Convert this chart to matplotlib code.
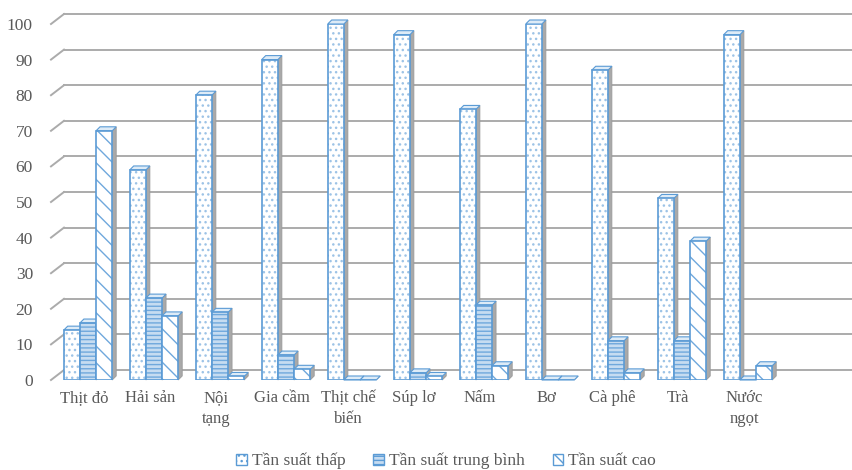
import matplotlib
matplotlib.use('Agg')
import matplotlib.pyplot as plt
import numpy as np
from matplotlib.patches import Patch

plt.rcParams['font.family'] = ['Liberation Serif', 'DejaVu Serif']
plt.rcParams['hatch.linewidth'] = 1.0

# data
categories = ['Thịt đỏ', 'Hải sản', 'Nội\ntạng', 'Gia cầm', 'Thịt chế\nbiến', 'Súp lơ',
              'Nấm', 'Bơ', 'Cà phê', 'Trà', 'Nước\nngọt', '']
low = [14, 59, 80, 90, 100, 97, 76, 100, 87, 51, 97]
medium = [16, 23, 19, 7, 0, 2, 21, 0, 11, 11, 0]
high = [70, 18, 1, 3, 0, 1, 4, 0, 2, 39, 4]
series_names = ['Tần suất thấp', 'Tần suất trung bình', 'Tần suất cao']
yticks = [0, 10, 20, 30, 40, 50, 60, 70, 80, 90, 100]

BLUE = '#5B9BD5'
TXT = '#595959'

fig = plt.figure(figsize=(8.53, 4.70), dpi=100)
ax = fig.add_axes([51 / 853, 90 / 470, 792 / 853, 356 / 470])
ax.set_xlim(-0.5, 11.5)
ax.set_ylim(0, 100)

# pixel -> data helpers (3D look)
px_x = 1 / 66.0
px_y = 100 / 356.0
wall_dx, wall_dy = 13 * px_x, 10 * px_y
bar_dx, bar_dy = 4 * px_x, 4 * px_y

# back wall grid lines with slanted front ends
for v in yticks:
    ax.plot([-0.5, -0.5 + wall_dx], [v, v + wall_dy], color='#ABABAB', lw=1.4,
            clip_on=False, zorder=1)
    ax.plot([-0.5 + wall_dx, 12.5], [v + wall_dy, v + wall_dy], color='#ABABAB',
            lw=1.4, clip_on=False, zorder=1)

w = 0.245
shift = 0.06
styles = [
    dict(face='white', hatch='...', hcolor='#9DC3E6'),
    dict(face='#C6DCF1', hatch='----', hcolor='#6FA8DC'),
    dict(face='white', hatch='\\\\', hcolor='#6FA8DC'),
]
x = np.arange(len(low))
for k, vals in enumerate([low, medium, high]):
    st = styles[k]
    xs = x + shift + (k - 1) * w
    z = 3 + k
    for xi, v in zip(xs, vals):
        l, r = xi - w / 2, xi + w / 2
        # side face
        ax.fill([r, r + bar_dx, r + bar_dx, r], [0, bar_dy, v + bar_dy, v],
                color='#A9A9A9', ec='#9A9A9A', lw=0.6, zorder=z, clip_on=False)
        # top face
        ax.fill([l, l + bar_dx, r + bar_dx, r], [v, v + bar_dy, v + bar_dy, v],
                color='#DDEBF7', ec=BLUE, lw=0.8, zorder=z, clip_on=False)
    ax.bar(xs, vals, w, color=st['face'], hatch=st['hatch'], edgecolor=st['hcolor'],
           lw=0, zorder=z)
    ax.bar(xs, vals, w, color='none', edgecolor=BLUE, lw=1.2, zorder=z)

ax.set_yticks(yticks)
ax.set_xticks(np.arange(len(categories)))
ax.set_xticklabels(categories, fontsize=12, color=TXT, linespacing=1.4, va='top')
ax.tick_params(axis='y', length=0, labelsize=12.5, labelcolor=TXT, pad=13)
ax.tick_params(axis='x', length=0, pad=7)
for s in ax.spines.values():
    s.set_visible(False)

handles = [Patch(facecolor=st['face'], edgecolor=BLUE, hatch=st['hatch'])
           for st in styles]
leg = fig.legend(handles, series_names, loc='lower center', bbox_to_anchor=(0.523, -0.032),
                 ncol=3, frameon=False, fontsize=12.5, handlelength=0.6, handleheight=0.6,
                 handletextpad=0.3, columnspacing=1.6)
for t in leg.get_texts():
    t.set_color(TXT)

fig.savefig('out.png', dpi=100)
